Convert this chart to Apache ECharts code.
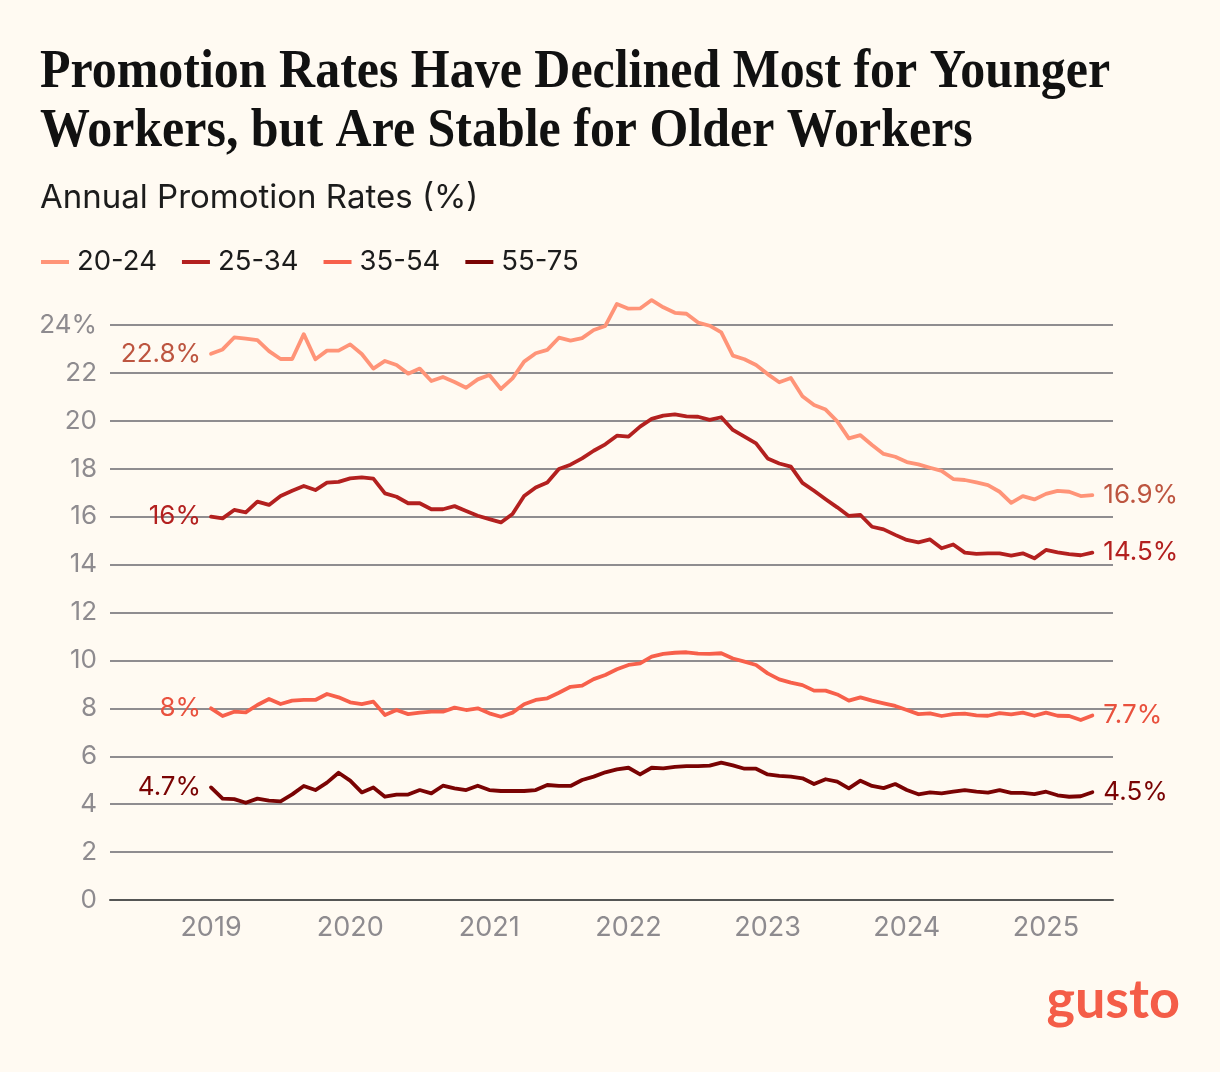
<!DOCTYPE html>
<html>
<head>
<meta charset="utf-8">
<script src="https://cdn.jsdelivr.net/npm/echarts@6/dist/echarts.min.js"></script>
<style>
html,body{margin:0;padding:0;background:#fffaf2;}
#chart{width:1220px;height:1072px;}
</style>
</head>
<body>
<div id="chart"></div>
<script>
// Monthly data, Jan 2019 .. May 2025 (77 months)
const startYear = 2019;
const yearTicks = [2019, 2020, 2021, 2022, 2023, 2024, 2025];
const seriesNames = ['20-24', '25-34', '35-54', '55-75'];

const age20_24 = [22.8,22.98,23.48,23.43,23.37,22.91,22.58,22.58,23.62,22.57,22.93,22.93,
  23.19,22.79,22.18,22.50,22.33,21.97,22.18,21.66,21.83,21.62,21.38,21.73,
  21.91,21.33,21.77,22.47,22.82,22.96,23.47,23.35,23.45,23.79,23.96,24.88,
  24.68,24.69,25.04,24.74,24.51,24.47,24.10,23.97,23.69,22.72,22.57,22.33,
  21.95,21.61,21.79,21.03,20.66,20.47,19.98,19.27,19.40,18.99,18.62,18.50,
  18.28,18.18,18.04,17.91,17.57,17.53,17.43,17.32,17.04,16.58,16.86,16.72,
  16.95,17.08,17.04,16.86,16.9];

const age25_34 = [16.0,15.93,16.28,16.18,16.63,16.49,16.86,17.08,17.28,17.11,17.42,17.45,
  17.60,17.64,17.59,16.97,16.83,16.56,16.56,16.31,16.31,16.44,16.24,16.04,
  15.90,15.76,16.11,16.86,17.22,17.43,17.99,18.17,18.43,18.75,19.02,19.38,
  19.34,19.76,20.08,20.22,20.27,20.19,20.17,20.04,20.15,19.62,19.34,19.06,
  18.43,18.22,18.09,17.41,17.08,16.73,16.39,16.03,16.07,15.58,15.47,15.24,
  15.03,14.93,15.05,14.68,14.84,14.50,14.45,14.47,14.47,14.37,14.47,14.26,
  14.61,14.51,14.44,14.39,14.5];

const age35_54 = [8.0,7.68,7.86,7.83,8.14,8.39,8.18,8.32,8.35,8.35,8.60,8.46,
  8.25,8.18,8.28,7.72,7.93,7.76,7.82,7.86,7.86,8.03,7.93,8.00,
  7.79,7.65,7.82,8.17,8.35,8.42,8.65,8.90,8.95,9.22,9.39,9.63,
  9.81,9.88,10.16,10.27,10.32,10.34,10.28,10.27,10.30,10.08,9.95,9.81,
  9.46,9.21,9.07,8.97,8.74,8.74,8.58,8.32,8.46,8.32,8.21,8.10,
  7.93,7.76,7.79,7.68,7.76,7.78,7.71,7.69,7.80,7.75,7.82,7.69,
  7.82,7.69,7.68,7.51,7.7];

const age55_75 = [4.7,4.23,4.21,4.06,4.23,4.15,4.12,4.41,4.76,4.59,4.90,5.31,
  4.98,4.49,4.70,4.31,4.40,4.40,4.59,4.45,4.77,4.66,4.59,4.77,
  4.59,4.55,4.55,4.55,4.59,4.80,4.76,4.76,5.01,5.15,5.33,5.45,
  5.52,5.24,5.52,5.49,5.56,5.59,5.59,5.61,5.73,5.62,5.48,5.48,
  5.24,5.18,5.15,5.08,4.84,5.04,4.94,4.66,4.98,4.76,4.67,4.84,
  4.59,4.41,4.49,4.45,4.52,4.59,4.52,4.48,4.59,4.47,4.47,4.42,
  4.52,4.37,4.31,4.33,4.5];

const yTicks = [0, 2, 4, 6, 8, 10, 12, 14, 16, 18, 20, 22, 24];

const lineColors = ['#ff9478', '#b3201f', '#f7604b', '#7a0303'];
const labelColors = ['#bd5540', '#b3201f', '#e9513e', '#7a0303'];
const allSeries = [age20_24, age25_34, age35_54, age55_75];

const fontSans = 'Inter, Lato, "Noto Sans", sans-serif';
const fmtPct = v => (+v.toFixed(1)) + '%';

const chart = echarts.init(document.getElementById('chart'), null, {renderer: 'canvas'});

const series = allSeries.map((arr, k) => {
  const last = arr.length - 1;
  return {
    name: seriesNames[k],
    type: 'line',
    data: arr.map((v, i) => [i, v]),
    showSymbol: false,
    clip: false,
    color: lineColors[k],
    lineStyle: {width: 3.8, color: lineColors[k], cap: 'round', join: 'round'},
    emphasis: {disabled: true},
    z: 3 + k,
    markPoint: {
      symbol: 'circle',
      symbolSize: 0,
      silent: true,
      animation: false,
      label: {
        show: true,
        fontFamily: fontSans,
        fontSize: 26,
        color: labelColors[k],
        formatter: p => fmtPct(p.value)
      },
      data: [
        {coord: [0, arr[0]], value: arr[0], label: {position: 'left', distance: 10}},
        {coord: [last, arr[last]], value: arr[last], label: {position: 'right', distance: 11}}
      ]
    }
  };
});

const option = {
  backgroundColor: '#fffaf2',
  animation: false,
  grid: {left: 110, right: 107, top: 325, bottom: 172, containLabel: false},
  legend: {
    left: 36,
    top: 243,
    icon: 'rect',
    itemWidth: 28,
    itemHeight: 4,
    itemGap: 25,
    selectedMode: false,
    textStyle: {fontFamily: fontSans, fontSize: 27.5, color: '#1c1c1c', padding: [0, 0, 0, 3]},
    data: seriesNames
  },
  xAxis: {
    type: 'value',
    min: -8.71,
    max: 77.78,
    splitLine: {show: false},
    axisTick: {show: false},
    axisLine: {show: true, onZero: false, lineStyle: {color: '#555555', width: 2}},
    axisLabel: {
      customValues: yearTicks.map(y => (y - startYear) * 12),
      formatter: v => String(startYear + Math.round(v / 12)),
      color: '#8e8b8f',
      fontFamily: fontSans,
      fontSize: 27,
      margin: 14
    }
  },
  yAxis: {
    type: 'value',
    min: 0,
    max: 24,
    interval: 2,
    axisLine: {show: false},
    axisTick: {show: false},
    splitLine: {show: true, lineStyle: {color: '#8f8d90', width: 2}},
    axisLabel: {
      customValues: yTicks,
      formatter: v => v === 24 ? '24%' : String(v),
      color: '#8e8b8f',
      fontFamily: fontSans,
      fontSize: 26,
      margin: 13
    }
  },
  graphic: [
    {type: 'text', left: 40, top: 46, scaleX: 0.925, style: {text: 'Promotion Rates Have Declined Most for Younger', font: 'bold 54px "Liberation Serif", serif', fill: '#111111'}},
    {type: 'text', left: 40, top: 105, scaleX: 0.925, style: {text: 'Workers, but Are Stable for Older Workers', font: 'bold 54px "Liberation Serif", serif', fill: '#111111'}},
    {type: 'text', left: 40, top: 182, style: {text: 'Annual Promotion Rates (%)', font: '33px ' + fontSans, fill: '#1c1c1c'}},
    {type: 'text', right: 40, top: 974, style: {text: 'gusto', font: 'bold 54px Lato, "Noto Sans", sans-serif', fill: '#f45d48'}}
  ],
  series: series
};

chart.setOption(option);
</script>
</body>
</html>
